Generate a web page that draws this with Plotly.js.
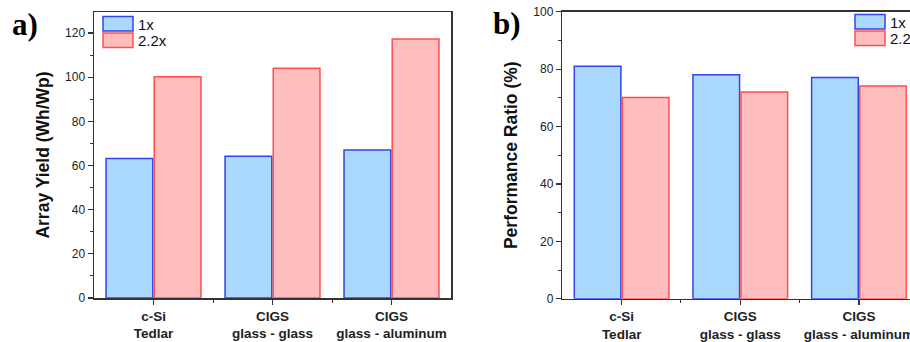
<!DOCTYPE html>
<html><head><meta charset="utf-8">
<script src="https://cdn.plot.ly/plotly-3.0.1.min.js"></script>
<style>html,body{margin:0;padding:0;overflow:hidden;background:#fff;width:910px;height:342px}</style>
</head><body>
<div id="chart" style="width:920px;height:342px"></div>
<script>
const categories = ["c-Si<br>Tedlar", "CIGS<br>glass - glass", "CIGS<br>glass - aluminum"];
const seriesNames = ["1x", "2.2x"];
const yield1x = [63.2, 64.2, 67.0];
const yield22x = [100.2, 104.0, 117.3];
const pr1x = [81.0, 78.0, 77.1];
const pr22x = [70.1, 72.0, 74.1];
const yTicksA = [0, 20, 40, 60, 80, 100, 120];
const yTicksB = [0, 20, 40, 60, 80, 100];

const W = 920, H = 342;
const px = v => v / W, py = v => 1 - v / H;
const blueFill = "#aad8ff", blueEdge = "#3344ee";
const redFill = "#ffbdbd", redEdge = "#ff5050";
const axisCol = "#333333";
const xIdx = categories.map((c, i) => i);

function bar(y, name, fill, edge, xa, ya) {
  return {type: "bar", x: xIdx, y: y, name: name, xaxis: xa, yaxis: ya, showlegend: false,
    marker: {color: fill, line: {color: edge, width: 1.5}}, hoverinfo: "y"};
}
const data = [
  bar(yield1x, seriesNames[0], blueFill, blueEdge, "x", "y"),
  bar(yield22x, seriesNames[1], redFill, redEdge, "x", "y"),
  bar(pr1x, seriesNames[0], blueFill, blueEdge, "x2", "y2"),
  bar(pr22x, seriesNames[1], redFill, redEdge, "x2", "y2")
];

const tickFont = {family: "Liberation Sans, Arial", size: 12, color: "#222"};
const xTickFont = {family: "Liberation Sans, Arial", size: 13.5, color: "#222", weight: "bold"};
const titleFont = {family: "Liberation Sans, Arial", size: 17.5, color: "#111", weight: "bold"};

function xAxis(dom, anchor) {
  return {domain: dom, anchor: anchor, range: [-0.5, 2.5], tickmode: "array", tickvals: xIdx,
    ticktext: categories, tickfont: xTickFont, ticks: "outside", ticklen: 5, tickwidth: 1.2,
    tickcolor: axisCol, showline: true, linecolor: axisCol, linewidth: 1.5, mirror: true,
    showgrid: false, zeroline: false, automargin: false, fixedrange: true,
    minor: {tickmode: "array", tickvals: [0.5, 1.5], ticks: "outside", ticklen: 3, tickcolor: axisCol, tickwidth: 1}};
}
function yAxis(dom, anchor, range, tv, title) {
  return {domain: dom, anchor: anchor, range: range, tickmode: "array", tickvals: tv,
    tickfont: tickFont, ticks: "outside", ticklen: 5, tickwidth: 1.2, tickcolor: axisCol,
    showline: true, linecolor: axisCol, linewidth: 1.5, mirror: true, showgrid: false, zeroline: false,
    automargin: false, fixedrange: true,
    minor: {dtick: 10, tick0: 0, ticks: "outside", ticklen: 3, tickcolor: axisCol, tickwidth: 1},
    title: {text: title, font: titleFont, standoff: 11}};
}

const shapes = [], annotations = [];
function legend(x0, y0) {
  const items = [[blueFill, blueEdge, seriesNames[0]], [redFill, redEdge, seriesNames[1]]];
  items.forEach((it, i) => {
    const top = y0 + i * 16.5;
    shapes.push({type: "rect", xref: "paper", yref: "paper", x0: px(x0), x1: px(x0 + 30),
      y0: py(top), y1: py(top + 14.5), fillcolor: it[0], line: {color: it[1], width: 1.5}});
    annotations.push({xref: "paper", yref: "paper", x: px(x0 + 33), y: py(top + 7.5), xanchor: "left",
      yanchor: "middle", text: it[2], showarrow: false,
      font: {family: "Liberation Sans, Arial", size: 15, color: "#111"}});
  });
}
legend(103, 16.5);
legend(855, 14.5);
annotations.push({xref: "paper", yref: "paper", x: px(10), y: py(25), xanchor: "left", yanchor: "middle",
  text: "a)", showarrow: false, font: {family: "Liberation Serif, Times New Roman", size: 31, color: "#000", weight: "bold"}});
annotations.push({xref: "paper", yref: "paper", x: px(491), y: py(23), xanchor: "left", yanchor: "middle",
  text: "b)", showarrow: false, font: {family: "Liberation Serif, Times New Roman", size: 31, color: "#000", weight: "bold"}});

const layout = {
  width: W, height: H, margin: {l: 0, r: 0, t: 0, b: 0},
  paper_bgcolor: "#fff", plot_bgcolor: "#fff",
  barmode: "group", bargap: 0.19, bargroupgap: 0.03,
  xaxis: xAxis([px(94), px(451)], "y"),
  yaxis: yAxis([py(298), py(12)], "x", [0, 129.5], yTicksA, "Array Yield (Wh/Wp)"),
  xaxis2: xAxis([px(562.3), px(918.3)], "y2"),
  yaxis2: yAxis([py(298.7), py(11.7)], "x2", [0, 100], yTicksB, "Performance Ratio (%)"),
  shapes: shapes, annotations: annotations, showlegend: false
};
Plotly.newPlot("chart", data, layout, {displayModeBar: false, staticPlot: true});
</script>
</body></html>
